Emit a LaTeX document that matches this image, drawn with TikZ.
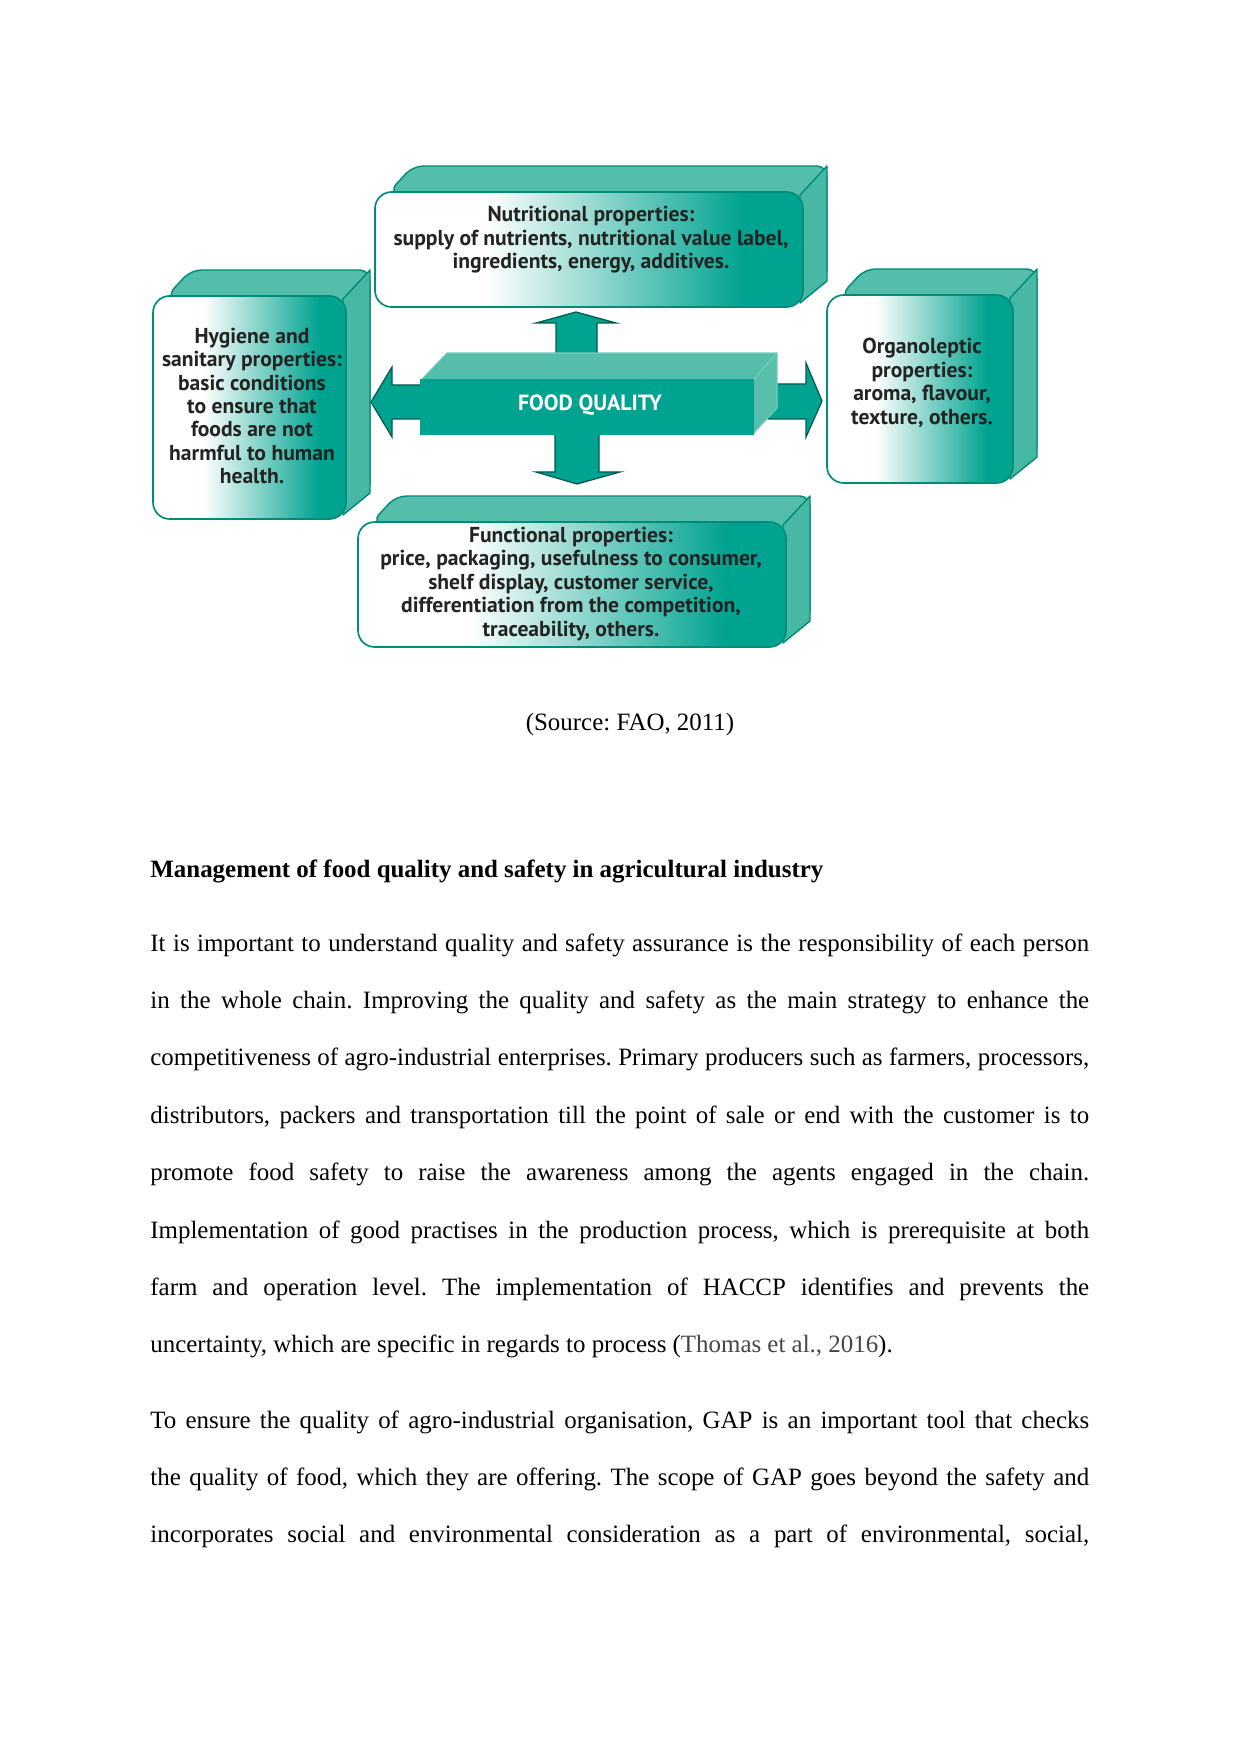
\documentclass[tikz,border=0pt]{standalone}
\usepackage{fontspec}
\setmainfont{Liberation Serif}
\newfontfamily\diagfont{PT Sans}
\frenchspacing
\definecolor{teal1}{RGB}{0,163,143}
\definecolor{tealtop}{RGB}{84,190,170}
\definecolor{tealside}{RGB}{70,184,164}
\definecolor{tealedge}{RGB}{0,140,120}
\definecolor{tealdark}{RGB}{0,90,76}
\definecolor{boxtext}{RGB}{35,35,35}
\definecolor{citegray}{RGB}{70,70,70}
\pgfdeclarehorizontalshading{frontshade}{100bp}{color(0bp)=(white); color(25bp)=(white); color(38bp)=(white); color(68bp)=(teal1); color(100bp)=(teal1)}
\tikzset{
  facetop/.style={fill=tealtop, draw=tealedge, line width=0.7pt, rounded corners=5pt, line join=round},
  faceside/.style={fill=tealside, draw=tealedge, line width=0.7pt, line join=round},
  facefront/.style={shading=frontshade, draw=tealedge, line width=0.8pt, rounded corners=8pt},
  ctop/.style={fill=tealtop, draw=tealtop!80!white, line width=0.5pt, line join=round},
  cside/.style={fill=tealside!90!white, draw=tealtop!80!white, line width=0.5pt, line join=round},
  cfront/.style={fill=teal1, draw=teal1, line width=0.5pt},
  blockarrow/.style={fill=teal1, draw=tealdark, line width=0.6pt, line join=miter},
  boxlabel/.style={align=center, inner sep=0pt, text=boxtext,
    font=\diagfont\bfseries\fontsize{10.4}{11.3}\selectfont},
  centerlabel/.style={inner sep=0pt, text=white,
    font=\diagfont\bfseries\fontsize{10.6}{12}\selectfont},
  bodyline/.style={anchor=base west, inner sep=0pt, font=\fontsize{12}{14}\selectfont},
  bodyhead/.style={anchor=base west, inner sep=0pt, font=\bfseries\fontsize{12}{14}\selectfont},
}
\newcommand\cubebox[4]{%
  \path[facetop] (#1+14,#2) -- (#1+38,#2-26) -- (#3+24,#2-26) -- (#3+24,#4-26) -- (#3-3,#4-6) -- cycle;
  \path[faceside] (#3-3,#2+3) -- (#3+24,#2-26) -- (#3+24,#4-26) -- (#3-3,#4-4) -- cycle;
  \shadedraw[facefront] (#1,#2) rectangle (#3,#4);}
\newcommand\jline[1]{\hbox to 452pt{#1}}
\begin{document}
\begin{tikzpicture}[x=0.48147pt, y=-0.48147pt]
\fill[white] (0,0) rectangle (1241,1754);
\useasboundingbox (0,0) rectangle (1241,1754);

% property boxes
\cubebox{153}{296}{346}{519}
\cubebox{375}{192}{803}{307}
\cubebox{827}{295}{1013}{483}
\cubebox{358}{522}{786}{647}

\node[boxlabel] (nutr) at (591,240) {Nutritional properties:\\supply of nutrients, nutritional value label,\\ingredients, energy, additives.};
\node[boxlabel] (hyg) at (252,406) {Hygiene and\\sanitary properties:\\basic conditions\\to ensure that\\foods are not\\harmful to human\\health.};
\node[boxlabel] (org) at (922,383) {Organoleptic\\properties:\\aroma, flavour,\\texture, others.};
\node[boxlabel] (func) at (571,584) {Functional properties:\\price, packaging, usefulness to consumer,\\shelf display, customer service,\\differentiation from the competition,\\traceability, others.};

% block arrows
\filldraw[blockarrow] (556,360) -- (556,323) -- (536,323) -- (576,312) -- (616,323) -- (597,323) -- (597,360) -- cycle;
\filldraw[blockarrow] (555,428) -- (555,472) -- (536,472) -- (577,484) -- (620,472) -- (599,472) -- (599,428) -- cycle;
\filldraw[blockarrow] (428,385) -- (392,385) -- (392,367) -- (371,402) -- (392,437) -- (392,419) -- (428,419) -- cycle;
\filldraw[blockarrow] (768,384) -- (806,384) -- (806,363) -- (822,401) -- (806,437) -- (806,419) -- (768,419) -- cycle;

% centre box
\path[ctop] (421,380) -- (447,353) -- (777,353) -- (753,380) -- cycle;
\path[cside] (753,380) -- (777,353) -- (777,408) -- (753,434) -- cycle;
\path[cfront] (421,380) rectangle (753,434);
\node[centerlabel] (fq) at (590,405) {FOOD QUALITY};

% caption and body text
\node[anchor=base, inner sep=0pt, font=\fontsize{12}{14}\selectfont] (src) at (630,730) {(Source: FAO, 2011)};
\node[bodyhead] (head) at (150,877) {Management of food quality and safety in agricultural industry};

\node[bodyline] (l1) at (150,951) {\jline{It is important to understand quality and safety assurance is the responsibility of each person}};
\node[bodyline] (l2) at (150,1008.4) {\jline{in the whole chain. Improving the quality and safety as the main strategy to enhance the}};
\node[bodyline] (l3) at (150,1065.8) {\jline{competitiveness of agro-industrial enterprises. Primary producers such as farmers, processors,}};
\node[bodyline] (l4) at (150,1123.2) {\jline{distributors, packers and transportation till the point of sale or end with the customer is to}};
\node[bodyline] (l5) at (150,1180.6) {\jline{promote food safety to raise the awareness among the agents engaged in the chain.}};
\node[bodyline] (l6) at (150,1238) {\jline{Implementation of good practises in the production process, which is prerequisite at both}};
\node[bodyline] (l7) at (150,1295.4) {\jline{farm and operation level. The implementation of HACCP identifies and prevents the}};
\node[bodyline] (l8) at (150,1352.8) {uncertainty, which are specific in regards to process ({\color{citegray}Thomas et al., 2016}).};

\node[bodyline] (l9) at (150,1428) {\jline{To ensure the quality of agro-industrial organisation, GAP is an important tool that checks}};
\node[bodyline] (l10) at (150,1485.4) {\jline{the quality of food, which they are offering. The scope of GAP goes beyond the safety and}};
\node[bodyline] (l11) at (150,1542.8) {\jline{incorporates social and environmental consideration as a part of environmental, social,}};
\end{tikzpicture}
\end{document}
